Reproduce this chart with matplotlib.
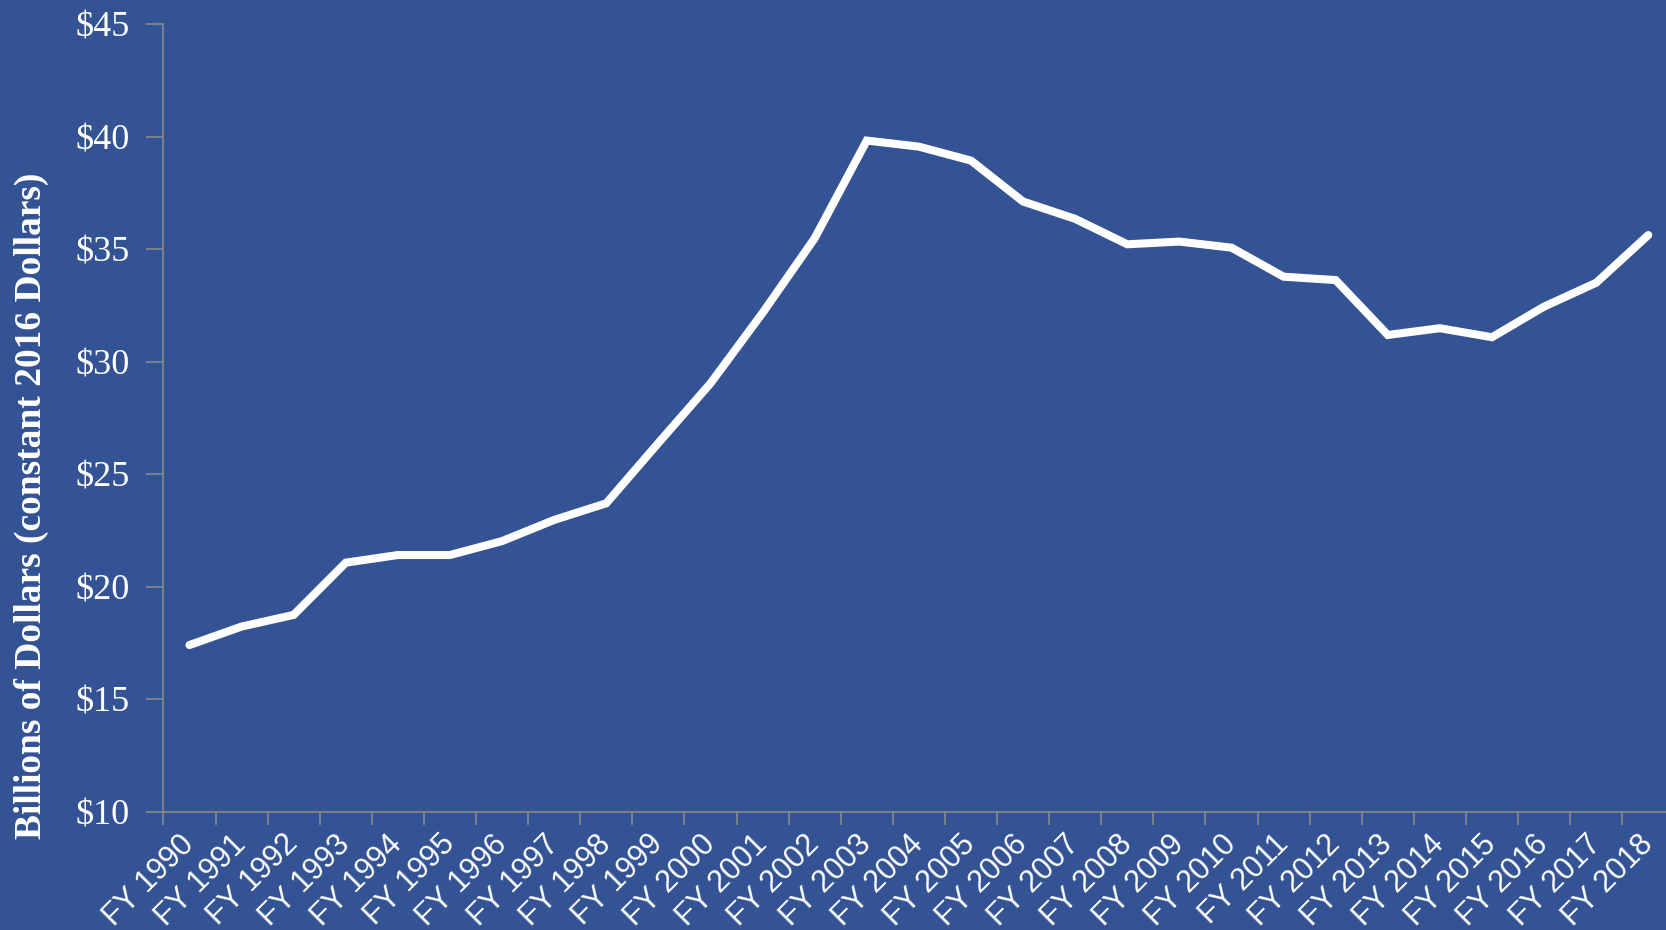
import matplotlib.pyplot as plt
import numpy as np

years = list(range(1990, 2019))
labels = ["FY %d" % y for y in years]
spending = [17.42, 18.24, 18.76, 21.08, 21.42, 21.42, 22.04, 22.98, 23.72,
            26.4, 29.05, 32.18, 35.5, 39.84, 39.57, 38.95, 37.13, 36.36,
            35.23, 35.35, 35.08, 33.79, 33.64, 31.2, 31.5, 31.1, 32.46,
            33.52, 35.64]
yticks = [10, 15, 20, 25, 30, 35, 40, 45]

bg = "#335394"
grey = "#8a8a8a"

fig = plt.figure(figsize=(16.66, 9.3), dpi=100, facecolor=bg)
ax = fig.add_axes([0.0981, 0.1269, 0.9069, 0.8468])
ax.set_facecolor(bg)

x = np.arange(len(years))
ax.plot(x, spending, color="white", lw=5.8, solid_capstyle="round",
        solid_joinstyle="miter")

ax.set_xlim(-0.5, len(years) - 0.5)
ax.set_ylim(10, 45)

# tick marks between categories, labels at the centres
ax.set_xticks(np.arange(len(years) + 1) - 0.5)
ax.set_xticklabels([])
ax.set_xticks(x, minor=True)
ax.set_xticklabels(labels, minor=True, rotation=45, ha="right",
                   va="center", rotation_mode="anchor",
                   family="Liberation Sans", fontsize=22, color="white")
ax.tick_params(axis="x", which="major", length=9, width=1.2, color=grey,
               direction="out")
ax.tick_params(axis="x", which="minor", length=0, pad=20)

ax.set_yticks(yticks)
ax.set_yticklabels(["$%d" % v for v in yticks], family="Liberation Serif",
                   fontsize=26, color="white")
ax.tick_params(axis="y", length=12.5, width=1.2, color=grey, pad=12)

for s in ["top", "right"]:
    ax.spines[s].set_visible(False)
for s in ["left", "bottom"]:
    ax.spines[s].set_color(grey)
    ax.spines[s].set_linewidth(1.2)

fig.text(0.0188, 0.456, "Billions of Dollars (constant 2016 Dollars)",
         rotation=90, ha="center", va="center", family="Liberation Serif",
         fontweight="bold", fontsize=27, color="white")

fig.savefig("out.png", dpi=100, facecolor=bg)
